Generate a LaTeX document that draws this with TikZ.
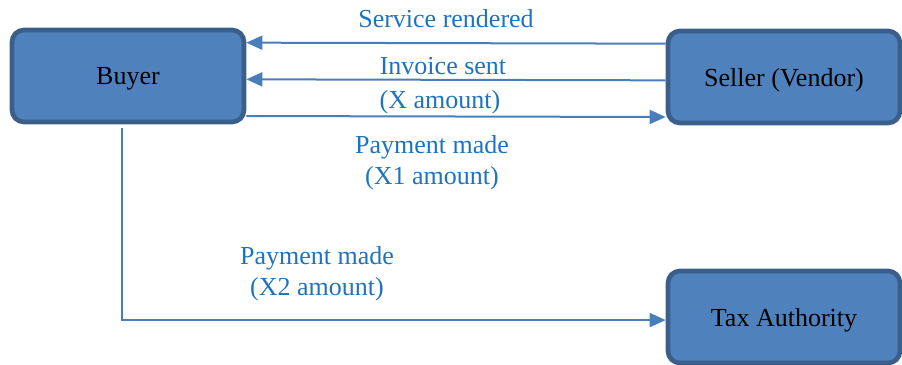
\documentclass[tikz,border=0pt]{standalone}
\usepackage{fontspec}
\setmainfont{Liberation Serif}
\usetikzlibrary{arrows.meta,positioning}
\definecolor{boxfill}{HTML}{4F81BD}
\definecolor{boxline}{HTML}{3A5F8B}
\definecolor{arrline}{HTML}{4A7EBB}
\definecolor{lbltext}{HTML}{1F73BE}
\tikzset{
       arr/.style = {-{Triangle[length=12pt,width=10.5pt]}, line width=1.5pt, draw=arrline},   % arrows
     party/.style = {draw=boxline, fill=boxfill, line width=3.5pt, rounded corners=9pt,
                     minimum width=174pt, minimum height=69pt, text depth=0pt,
                     font=\fontsize{19.5}{23}\selectfont, align=center},
       lbl/.style = {text=lbltext, font=\fontsize{19.5}{23}\selectfont, align=center, inner sep=0pt},
        }
\begin{document}
\begin{tikzpicture}[x=0.75pt,y=-0.75pt]
  \useasboundingbox (0,0) rectangle (902,364);

  \node[party] (buyer)  at (128,76)  {Buyer};
  \node[party] (seller) at (784,77)  {Seller (Vendor)};
  \node[party] (tax)    at (784,317) {Tax Authority};

  \draw[arr] ([yshift=25pt]seller.west) -- ([yshift=25pt]buyer.east);
  \draw[arr] ([yshift=-2.5pt]seller.west) -- ([yshift=-2.5pt]buyer.east);
  \draw[arr] ([yshift=-30pt]buyer.east) -- ([yshift=-30pt]seller.west);
  \draw[arr] ([xshift=-4.5pt,yshift=-3pt]buyer.south) |- ([yshift=-2.3pt]tax.west);

  \node[lbl] (srv)  at (446,19)  {Service rendered};
  \node[lbl] (inv)  at (443,66)  {Invoice sent};
  \node[lbl] (xamt) at (440,102) {(X amount)};
  \node[lbl] (pay1) at (432,163) {Payment made\\(X1 amount)};
  \node[lbl] (pay2) at (317,274) {Payment made\\(X2 amount)};
\end{tikzpicture}
\end{document}
